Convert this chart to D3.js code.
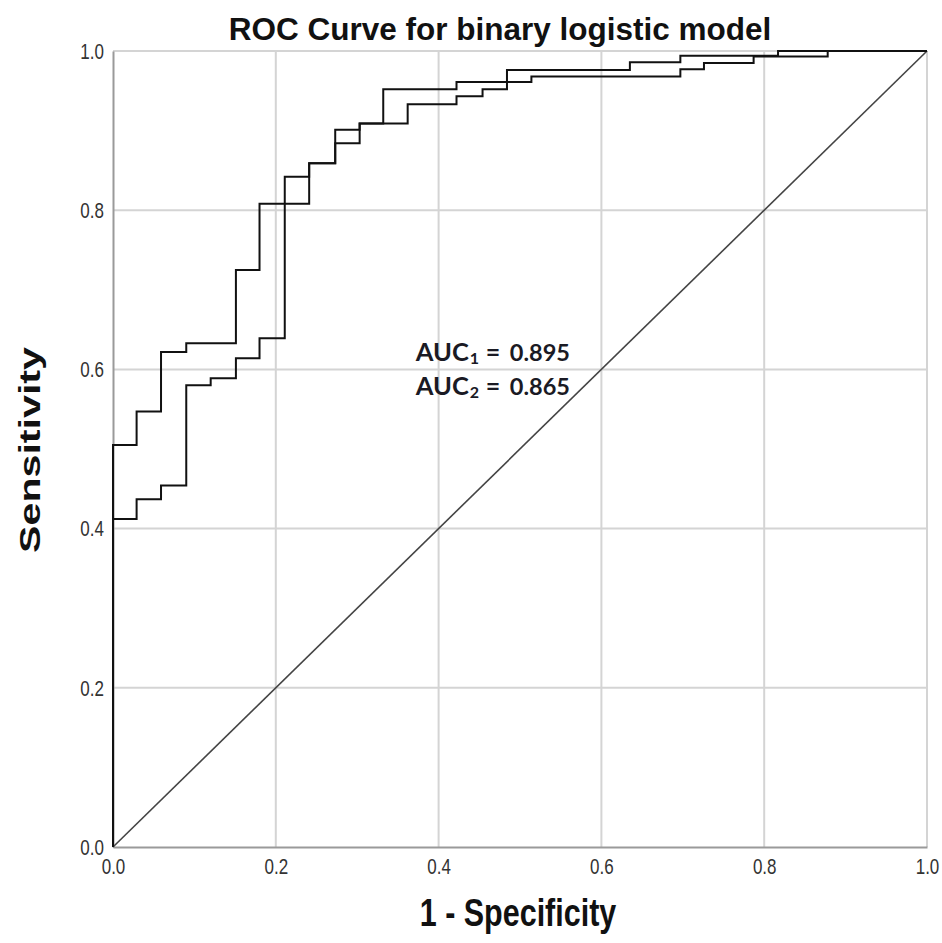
<!DOCTYPE html>
<html>
<head>
<meta charset="utf-8">
<script src="https://cdn.jsdelivr.net/npm/d3@7"></script>
<style>
  body { margin: 0; background: #fff; }
  svg { display: block; }
</style>
</head>
<body>
<svg></svg>
<script>
// ROC points of the two models (1 - specificity, sensitivity)
const fpr1 = [0, 0.029, 0.059, 0.090, 0.151, 0.180, 0.241, 0.273, 0.303, 0.332, 0.422, 0.514, 0.697, 0.726, 0.787, 0.878, 1];
const tpr1 = [0, 0.505, 0.547, 0.622, 0.633, 0.725, 0.808, 0.859, 0.901, 0.909, 0.952, 0.961, 0.968, 0.977, 0.985, 0.993, 1];

const fpr2 = [0, 0.029, 0.059, 0.090, 0.120, 0.151, 0.180, 0.211, 0.241, 0.273, 0.303, 0.362, 0.422, 0.454, 0.484, 0.635, 0.697, 0.817, 1];
const tpr2 = [0, 0.412, 0.437, 0.454, 0.580, 0.589, 0.614, 0.639, 0.842, 0.859, 0.884, 0.909, 0.933, 0.943, 0.952, 0.976, 0.986, 0.994, 1];

const ticks = [0, 0.2, 0.4, 0.6, 0.8, 1.0];
const aucLabels = [["1", "0.895"], ["2", "0.865"]];

const width = 942;
const height = 943;
const stretch = 1.35; // the picture is taller than it is wide

const svg = d3.select("svg").attr("width", width).attr("height", height);

const x = d3.scaleLinear().domain([0, 1]).range([113, 927]);
const y = d3.scaleLinear().domain([0, 1]).range([847, 51]);

// gridlines
svg.selectAll(".vgrid")
  .data(ticks.slice(1))
  .enter()
  .append("line")
  .attr("x1", d => x(d)).attr("x2", d => x(d))
  .attr("y1", y(0)).attr("y2", y(1))
  .attr("stroke", "#d4d4d4").attr("stroke-width", 2);

svg.selectAll(".hgrid")
  .data(ticks.slice(1))
  .enter()
  .append("line")
  .attr("x1", x(0)).attr("x2", x(1))
  .attr("y1", d => y(d)).attr("y2", d => y(d))
  .attr("stroke", "#d4d4d4").attr("stroke-width", 2);

// axes
const xAxis = d3.axisBottom(x).tickValues(ticks).tickFormat(d3.format(".1f")).tickSize(0).tickPadding(8);
const yAxis = d3.axisLeft(y).tickValues(ticks).tickFormat(d3.format(".1f")).tickSize(0).tickPadding(9);

const gx = svg.append("g").attr("transform", `translate(0,${y(0)})`).call(xAxis);
const gy = svg.append("g").attr("transform", `translate(${x(0)},0)`).call(yAxis);

[gx, gy].forEach(g => {
  g.select(".domain").attr("stroke", "#9a9a9a").attr("stroke-width", 2);
  g.selectAll("text")
    .attr("font-family", "Liberation Sans, Arial, sans-serif")
    .attr("font-size", 17)
    .attr("fill", "#333")
    .attr("transform", `scale(1,${stretch})`);
});

// reference diagonal
svg.append("line")
  .attr("x1", x(0)).attr("y1", y(0))
  .attr("x2", x(1)).attr("y2", y(1))
  .attr("stroke", "#444").attr("stroke-width", 1.6);

// ROC curves
const line = d3.line()
  .x(d => x(d[0]))
  .y(d => y(d[1]))
  .curve(d3.curveStepBefore);

[[fpr1, tpr1], [fpr2, tpr2]].forEach(([fx, ty]) => {
  svg.append("path")
    .datum(d3.zip(fx, ty))
    .attr("d", line)
    .attr("fill", "none")
    .attr("stroke", "#111")
    .attr("stroke-width", 2);
});

// title and labels
svg.append("text")
  .attr("x", 500).attr("y", 40)
  .attr("text-anchor", "middle")
  .attr("font-family", "Liberation Sans, Arial, sans-serif")
  .attr("font-weight", "bold")
  .attr("font-size", 31.5)
  .attr("fill", "#111")
  .text("ROC Curve for binary logistic model");

svg.append("text")
  .attr("transform", "translate(518,926) scale(1,1.3)")
  .attr("text-anchor", "middle")
  .attr("font-family", "Liberation Sans, Arial, sans-serif")
  .attr("font-weight", "bold")
  .attr("font-size", 30.5)
  .attr("fill", "#111")
  .text("1 - Specificity");

svg.append("text")
  .attr("transform", "translate(40,450) rotate(-90) scale(1.42,1)")
  .attr("text-anchor", "middle")
  .attr("font-family", "Liberation Sans, Arial, sans-serif")
  .attr("font-weight", "bold")
  .attr("font-size", 29)
  .attr("fill", "#111")
  .text("Sensitivity");

// AUC annotation
aucLabels.forEach((d, i) => {
  const x0 = x(0.372);
  const t = svg.append("text")
    .attr("y", 361 + i * 34)
    .attr("font-family", "Lato, Open Sans, sans-serif")
    .attr("font-weight", "bold")
    .attr("font-size", 23.5)
    .attr("fill", "#1a1a24");
  t.append("tspan").attr("x", x0).attr("font-size", 25.5).text("AUC");
  t.append("tspan").attr("x", x0 + 54).attr("dy", 3).attr("font-size", 16).text(d[0]);
  t.append("tspan").attr("x", x0 + 70).attr("dy", -3).attr("font-size", 25).text("=");
  t.append("tspan").attr("x", x0 + 94).text(d[1]);
});
</script>
</body>
</html>
